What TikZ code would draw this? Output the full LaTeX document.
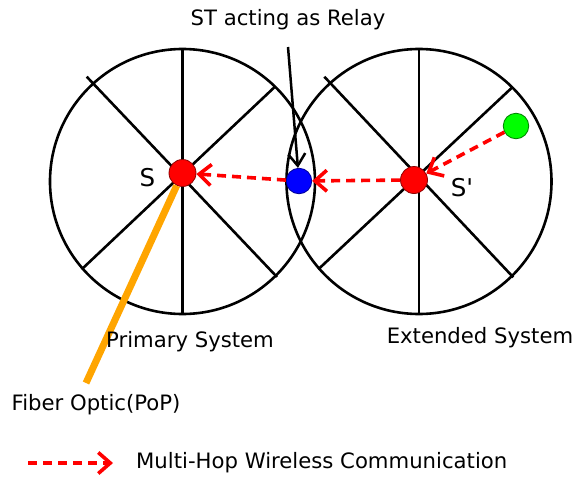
\documentclass[tikz,border=0pt]{standalone}
\usepackage{fontspec}
\setmainfont{DejaVu Sans}
\usetikzlibrary{arrows.meta}
\definecolor{fiber}{HTML}{FFA500}
\begin{document}
\begin{tikzpicture}[x=1pt,y=-1pt,
  wheel/.style={line width=2.6pt},
  station/.style={circle, minimum size=27pt, inner sep=0pt, line width=0.8pt},
  hop/.style={red, line width=3.6pt, dash pattern=on 9pt off 6pt,
    -{Straight Barb[length=12pt,width=21pt,line width=3.6pt]}},
  lbl/.style={inner sep=0pt, font=\fontsize{21.2}{25}\selectfont},
  bslbl/.style={inner sep=0pt, font=\fontsize{24.5}{29}\selectfont}]
\useasboundingbox (0,0) rectangle (574,477);

% primary cell
\coordinate (pc) at (182.5,181.5);
\draw[wheel] (pc) circle[radius=132.5pt];
\coordinate (pN) at (182.5,49);
\coordinate (pS) at (182.5,314);
\coordinate (pNW) at (86.7,76.7);
\coordinate (pSE) at (277,277);
\coordinate (pNE) at (275,86.7);
\coordinate (pSW) at (81.7,269.3);
\draw[wheel] (pN) -- (pS);
\draw[wheel] (pNW) -- (pSE);
\draw[wheel] (pNE) -- (pSW);

% extended cell
\coordinate (ec) at (419,181.5);
\draw[wheel] (ec) circle[radius=132.5pt];
\coordinate (eN) at (419,49);
\coordinate (eS) at (419,314);
\coordinate (eNW) at (324.3,76.7);
\coordinate (eSE) at (513.3,277.3);
\coordinate (eNE) at (512.3,87.3);
\coordinate (eSW) at (318.3,269.3);
\draw[wheel] (eN) -- (eS);
\draw[wheel] (eNW) -- (eSE);
\draw[wheel] (eNE) -- (eSW);

% stations
\node[station, fill=red, draw=red!55!black] (S) at (182.5,173) {};
\node[station, fill=red, draw=red!55!black] (Sp) at (414,180) {};
\node[station, fill=blue, draw=blue!60!black, minimum size=25.5pt] (relay) at (299,181) {};
\node[station, fill=green, draw=green!50!black, minimum size=25.5pt] (mobile) at (516,126) {};

% wireless hops
\draw[hop] (mobile) -- (Sp);
\draw[hop] (Sp) -- (relay);
\draw[hop] (relay) -- (S);

% fiber backhaul
\coordinate (pop) at (86,383);
\draw[fiber, line width=7pt] (pop) -- (S);

% relay callout
\node[lbl] (relaytxt) at (288,20) {ST acting as Relay};
\coordinate (relaytail) at (288,47);
\draw[line width=2.5pt, -{Straight Barb[length=12pt,width=17pt,line width=2.5pt]}] (relaytail) -- (relay);

% labels
\node[bslbl] (Slbl) at (147.5,178) {S};
\node[bslbl] (Splbl) at (462,188) {S\textquotesingle};
\node[lbl] (prim) at (190,342) {Primary System};
\node[lbl] (ext) at (480,338) {Extended System};
\node[lbl] (fib) at (96,405) {Fiber Optic(PoP)};

% legend
\coordinate (la) at (28,463);
\coordinate (lb) at (113,463);
\draw[hop] (la) -- (lb);
\node[lbl, anchor=west] (legend) at (136,463) {Multi-Hop Wireless Communication};
\end{tikzpicture}
\end{document}
